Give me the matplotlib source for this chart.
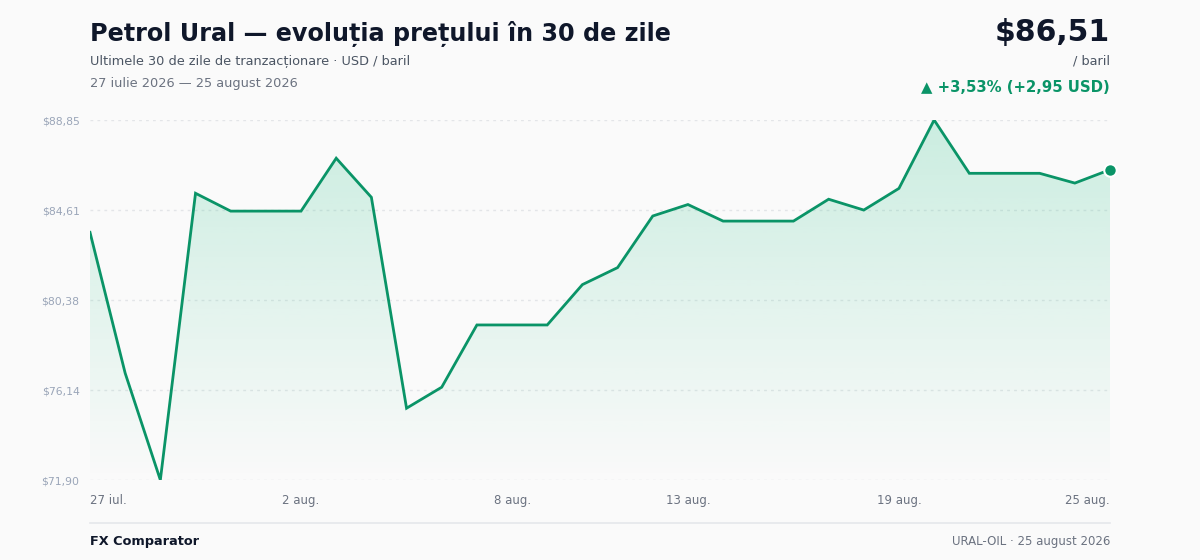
import matplotlib
matplotlib.use("Agg")
import matplotlib.pyplot as plt
import numpy as np
from matplotlib.patches import Polygon
from matplotlib.lines import Line2D

# ---- data ----
dates = ["27 iul.", "28 iul.", "29 iul.", "30 iul.", "31 iul.", "1 aug.", "2 aug.",
         "3 aug.", "4 aug.", "5 aug.", "6 aug.", "7 aug.", "8 aug.", "9 aug.",
         "10 aug.", "11 aug.", "12 aug.", "13 aug.", "14 aug.", "15 aug.", "16 aug.",
         "17 aug.", "18 aug.", "19 aug.", "20 aug.", "21 aug.", "22 aug.", "23 aug.",
         "24 aug.", "25 aug."]
prices = [83.56, 76.93, 71.90, 85.40, 84.56, 84.56, 84.56, 87.05, 85.21, 75.28,
          76.27, 79.20, 79.20, 79.20, 81.10, 81.90, 84.33, 84.87, 84.09, 84.09,
          84.09, 85.12, 84.61, 85.63, 88.85, 86.34, 86.34, 86.34, 85.88, 86.51]
tick_idx = [0, 6, 12, 17, 23, 29]

title = "Petrol Ural — evoluția prețului în 30 de zile"
subtitle = "Ultimele 30 de zile de tranzacționare · USD / baril"
period = "27 iulie 2026 — 25 august 2026"
last_price = "$86,51"
unit = "/ baril"
change = "▲ +3,53% (+2,95 USD)"
brand = "FX Comparator"
source = "URAL-OIL · 25 august 2026"

GREEN = "#0a9467"
BG = "#fafafa"

def fmt(v):
    return "$" + f"{v:.2f}".replace(".", ",")

fig = plt.figure(figsize=(12, 5.6), dpi=100, facecolor=BG)
ax = fig.add_axes([0.075, 1 - 480 / 560, 0.85, 360 / 560])
ax.set_facecolor(BG)

x = np.arange(len(prices))
y = np.array(prices)
ymin, ymax = y.min(), y.max()
ax.set_xlim(0, len(prices) - 1)
ax.set_ylim(ymin, ymax)

# gradient fill under line
grad = np.zeros((256, 1, 4))
c = matplotlib.colors.to_rgb("#34c48e")
grad[:, 0, 0] = c[0]
grad[:, 0, 1] = c[1]
grad[:, 0, 2] = c[2]
grad[:, 0, 3] = np.linspace(0.24, 0.0, 256)
im = ax.imshow(grad, extent=[0, len(prices) - 1, ymin, ymax], origin="upper",
               aspect="auto", zorder=1, interpolation="bilinear")
verts = [(0, ymin)] + list(zip(x, y)) + [(len(prices) - 1, ymin)]
poly = Polygon(verts, closed=True, facecolor="none", edgecolor="none")
ax.add_patch(poly)
im.set_clip_path(poly)

ax.plot(x, y, color=GREEN, lw=2, zorder=3, solid_joinstyle="miter")
ax.plot([x[-1]], [y[-1]], "o", ms=9, color=GREEN, mec="white", mew=1.5,
        zorder=4, clip_on=False)

# grid
yt = np.linspace(ymin, ymax, 5)
ax.set_yticks(yt)
ax.set_yticklabels([fmt(v) for v in yt])
for v in yt:
    ax.axhline(v, color="#e3e5e8", lw=1, ls=(0, (2, 3)), zorder=0.5)

ax.set_xticks(tick_idx)
ax.set_xticklabels([dates[i] for i in tick_idx])
labs = ax.get_xticklabels()
labs[0].set_ha("left")
labs[-1].set_ha("right")

ax.tick_params(axis="y", length=0, pad=7.5, labelsize=7.8, labelcolor="#9aa5b8")
ax.tick_params(axis="x", length=0, pad=10, labelsize=8.5, labelcolor="#6b7280")
for s in ax.spines.values():
    s.set_visible(False)

# header texts
fig.text(90 / 1200, 1 - 34 / 560, title, fontsize=17.2, fontweight="bold",
         color="#0f172a", va="center", ha="left")
fig.text(90 / 1200, 1 - 61 / 560, subtitle, fontsize=9.3, color="#4b5563",
         va="center", ha="left")
fig.text(90 / 1200, 1 - 83 / 560, period, fontsize=9.3, color="#6b7280",
         va="center", ha="left")
fig.text(1110 / 1200, 1 - 32 / 560, last_price, fontsize=21.5, fontweight="bold",
         color="#0f172a", va="center", ha="right")
fig.text(1110 / 1200, 1 - 61 / 560, unit, fontsize=9.3, color="#4b5563",
         va="center", ha="right")
fig.text(1110 / 1200, 1 - 87 / 560, change, fontsize=10.7, fontweight="bold",
         color=GREEN, va="center", ha="right")

# footer
fig.add_artist(Line2D([90 / 1200, 1110 / 1200], [1 - 523 / 560, 1 - 523 / 560],
                      color="#e5e7eb", lw=1.2, transform=fig.transFigure))
fig.text(90 / 1200, 1 - 541 / 560, brand, fontsize=9.3, fontweight="bold",
         color="#0f172a", va="center", ha="left")
fig.text(1110 / 1200, 1 - 541 / 560, source, fontsize=8.5, color="#6b7280",
         va="center", ha="right")

fig.savefig("out.png", dpi=100, facecolor=BG)
